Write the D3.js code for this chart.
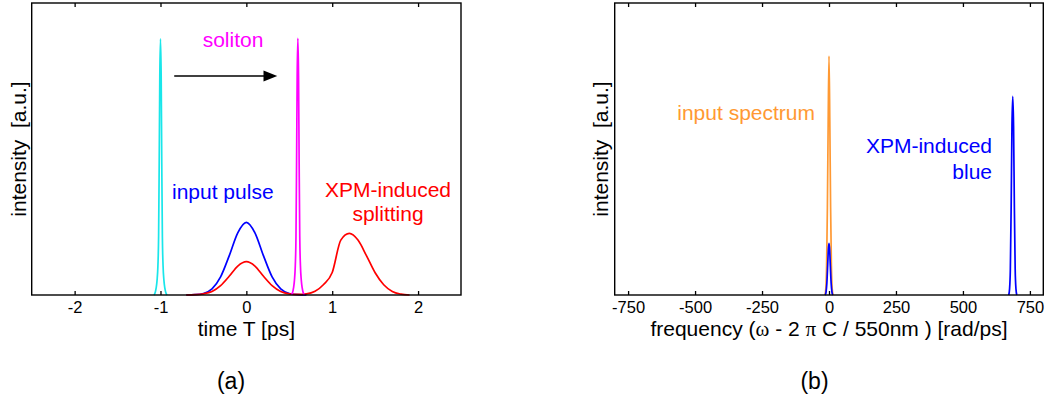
<!DOCTYPE html>
<html>
<head>
<meta charset="utf-8">
<script src="https://cdn.jsdelivr.net/npm/d3@7"></script>
<style>
  html, body { margin: 0; padding: 0; background: #fff; }
  svg { display: block; }
  text { font-family: "Liberation Sans", Arial, Helvetica, sans-serif; }
</style>
</head>
<body>
<svg id="chart" width="1054" height="400"></svg>
<script>
// ---------- data ----------
// panel (a): time domain, intensity in a.u. (0..1 of the axis height)
const timeTicks = [-2, -1, 0, 1, 2];
const cyanPulse = [
  [-1.075, 0], [-1.06, 0.01], [-1.05, 0.025], [-1.04, 0.05], [-1.03, 0.1], [-1.022, 0.2],
  [-1.015, 0.45], [-1.008, 0.75], [-1.0, 0.877], [-0.992, 0.75], [-0.985, 0.45],
  [-0.978, 0.2], [-0.97, 0.1], [-0.96, 0.05], [-0.95, 0.025], [-0.94, 0.01], [-0.925, 0]
];
const solitonPulse = [
  [0.525, 0], [0.54, 0.01], [0.55, 0.025], [0.56, 0.05], [0.57, 0.1], [0.578, 0.2],
  [0.585, 0.45], [0.592, 0.75], [0.6, 0.879], [0.608, 0.75], [0.615, 0.45],
  [0.622, 0.2], [0.63, 0.1], [0.64, 0.05], [0.65, 0.025], [0.66, 0.01], [0.675, 0]
];
const inputPulse = [
  [-0.7, 0], [-0.6, 0.001], [-0.5, 0.005], [-0.4, 0.021], [-0.3, 0.062], [-0.2, 0.134],
  [-0.1, 0.213], [0.0, 0.249], [0.1, 0.213], [0.2, 0.134], [0.3, 0.062], [0.4, 0.021],
  [0.5, 0.005], [0.6, 0.001], [0.7, 0]
];
const splitPulse = [
  [-0.7, 0], [-0.6, 0.001], [-0.5, 0.004], [-0.4, 0.012], [-0.3, 0.032], [-0.2, 0.064],
  [-0.1, 0.099], [0.0, 0.114], [0.1, 0.099], [0.2, 0.064], [0.3, 0.032], [0.4, 0.012],
  [0.5, 0.004], [0.6, 0.002], [0.7, 0.004], [0.8, 0.013], [0.9, 0.036], [1.0, 0.077],
  [1.1, 0.188], [1.2, 0.211], [1.3, 0.188], [1.4, 0.134], [1.5, 0.076], [1.6, 0.035],
  [1.7, 0.012], [1.8, 0.003], [1.9, 0]
];

// panel (b): spectrum
const freqTicks = [-750, -500, -250, 0, 250, 500, 750];
const inputSpectrum = [
  [-15, 0], [-12, 0.02], [-9, 0.1], [-6, 0.3], [-3, 0.6], [0, 0.818],
  [3, 0.6], [6, 0.3], [9, 0.1], [12, 0.02], [15, 0]
];
const blueAtZero = [
  [-14, 0], [-11, 0.01], [-8, 0.04], [-5, 0.1], [-2.5, 0.155], [0, 0.177],
  [2.5, 0.155], [5, 0.1], [8, 0.04], [11, 0.01], [14, 0]
];
const blueShifted = [
  [671, 0], [674, 0.02], [677, 0.09], [680, 0.3], [683, 0.58], [686, 0.68],
  [689, 0.58], [692, 0.3], [695, 0.09], [698, 0.02], [701, 0]
];

// ---------- drawing ----------
const svg = d3.select("#chart");
const FONT_TICK = 16.5, FONT_LAB = 21;

function panel(opts) {
  const {x0, x1, y0, y1, domain, ticks} = opts;
  const x = d3.scaleLinear().domain(domain).range([x0, x1]);
  const y = d3.scaleLinear().domain([0, 1]).range([y1, y0]);
  const g = svg.append("g");
  const gLines = g.append("g");
  const line = d3.line().x(d => x(d[0])).y(d => y(d[1])).curve(d3.curveMonotoneX);
  opts.series.forEach(s => {
    gLines.append("path").datum(s.data)
      .attr("d", line).attr("fill", "none")
      .attr("stroke", s.color).attr("stroke-width", 1.7)
      .attr("stroke-linejoin", "round");
  });
  // bottom axis with inside ticks
  const ax = d3.axisBottom(x).tickValues(ticks).tickSize(-4).tickPadding(6)
    .tickFormat(d => d < 0 ? "-" + Math.abs(d) : String(d));
  const gAx = g.append("g").attr("transform", `translate(0,${y1})`).call(ax);
  gAx.select(".domain").remove();
  gAx.selectAll("line").attr("stroke", "#000").attr("stroke-width", 1.3);
  gAx.selectAll("text").attr("font-size", FONT_TICK).attr("fill", "#000")
    .attr("font-family", "'Liberation Sans', Arial, sans-serif");
  // top ticks (inside)
  const axT = d3.axisTop(x).tickValues(ticks).tickSize(-4).tickFormat("");
  const gT = g.append("g").attr("transform", `translate(0,${y0})`).call(axT);
  gT.select(".domain").remove();
  gT.selectAll("line").attr("stroke", "#000").attr("stroke-width", 1.3);
  // frame
  g.append("rect").attr("x", x0).attr("y", y0).attr("width", x1 - x0).attr("height", y1 - y0)
    .attr("fill", "none").attr("stroke", "#000").attr("stroke-width", 1.4);
  // y label
  const cy = (y0 + y1) / 2;
  g.append("text")
    .attr("transform", `translate(${opts.ylabX},${cy}) rotate(-90)`)
    .attr("text-anchor", "middle").attr("font-size", FONT_LAB)
    .attr("xml:space", "preserve")
    .text("intensity  [a.u.]");
  return {x, y, g};
}

// panel (a)
const A = panel({
  x0: 31.7, x1: 461, y0: 3, y1: 295, domain: [-2.5, 2.5], ticks: timeTicks, ylabX: 26,
  series: [
    {data: cyanPulse, color: "#19e6ea"},
    {data: inputPulse, color: "#0000ff"},
    {data: splitPulse, color: "#ff0000"},
    {data: solitonPulse, color: "#ff00ff"}
  ]
});
A.g.append("text").attr("x", (31.7 + 461) / 2).attr("y", 336).attr("text-anchor", "middle")
  .attr("font-size", FONT_LAB).text("time T [ps]");
// annotations (a)
A.g.append("text").attr("x", 233).attr("y", 47).attr("text-anchor", "middle")
  .attr("font-size", FONT_LAB).attr("fill", "#ff00ff").text("soliton");
A.g.append("text").attr("x", 172).attr("y", 199).attr("text-anchor", "start")
  .attr("font-size", FONT_LAB).attr("fill", "#0000ff").text("input pulse");
A.g.append("text").attr("x", 388).attr("y", 197).attr("text-anchor", "middle")
  .attr("font-size", FONT_LAB).attr("fill", "#ff0000").text("XPM-induced");
A.g.append("text").attr("x", 388).attr("y", 221).attr("text-anchor", "middle")
  .attr("font-size", FONT_LAB).attr("fill", "#ff0000").text("splitting");
// arrow
const ay = A.y(0.75);
A.g.append("line").attr("x1", A.x(-0.84)).attr("x2", A.x(0.22)).attr("y1", ay).attr("y2", ay)
  .attr("stroke", "#000").attr("stroke-width", 1.3);
A.g.append("path")
  .attr("d", `M${A.x(0.36)},${ay} L${A.x(0.2)},${ay - 5.5} L${A.x(0.2)},${ay + 5.5} Z`)
  .attr("fill", "#000");

// panel (b)
const B = panel({
  x0: 614.7, x1: 1043.3, y0: 3, y1: 295, domain: [-800, 800], ticks: freqTicks, ylabX: 608,
  series: [
    {data: inputSpectrum, color: "#ff9933"},
    {data: blueAtZero, color: "#0000ff"},
    {data: blueShifted, color: "#0000ff"}
  ]
});
const fl = B.g.append("text").attr("x", (614.7 + 1043.3) / 2).attr("y", 336)
  .attr("text-anchor", "middle").attr("font-size", FONT_LAB);
fl.append("tspan").text("frequency (");
fl.append("tspan").attr("font-family", "'Liberation Serif', 'DejaVu Serif', serif").text("ω");
fl.append("tspan").text(" - 2 ");
fl.append("tspan").attr("font-family", "'Liberation Serif', 'DejaVu Serif', serif").text("π");
fl.append("tspan").text(" C / 550nm ) [rad/ps]");
B.g.append("text").attr("x", 815).attr("y", 120).attr("text-anchor", "end")
  .attr("font-size", FONT_LAB).attr("fill", "#ff9933").text("input spectrum");
B.g.append("text").attr("x", 992).attr("y", 153).attr("text-anchor", "end")
  .attr("font-size", FONT_LAB).attr("fill", "#0000ff").text("XPM-induced");
B.g.append("text").attr("x", 992).attr("y", 179).attr("text-anchor", "end")
  .attr("font-size", FONT_LAB).attr("fill", "#0000ff").text("blue");

// sub-captions
svg.append("text").attr("x", 231).attr("y", 389).attr("text-anchor", "middle")
  .attr("font-family", "'Latin Modern Roman', 'Liberation Serif', 'DejaVu Serif', serif")
  .attr("font-size", 23).text("(a)");
svg.append("text").attr("x", 814.5).attr("y", 389).attr("text-anchor", "middle")
  .attr("font-family", "'Latin Modern Roman', 'Liberation Serif', 'DejaVu Serif', serif")
  .attr("font-size", 23).text("(b)");
</script>
</body>
</html>
